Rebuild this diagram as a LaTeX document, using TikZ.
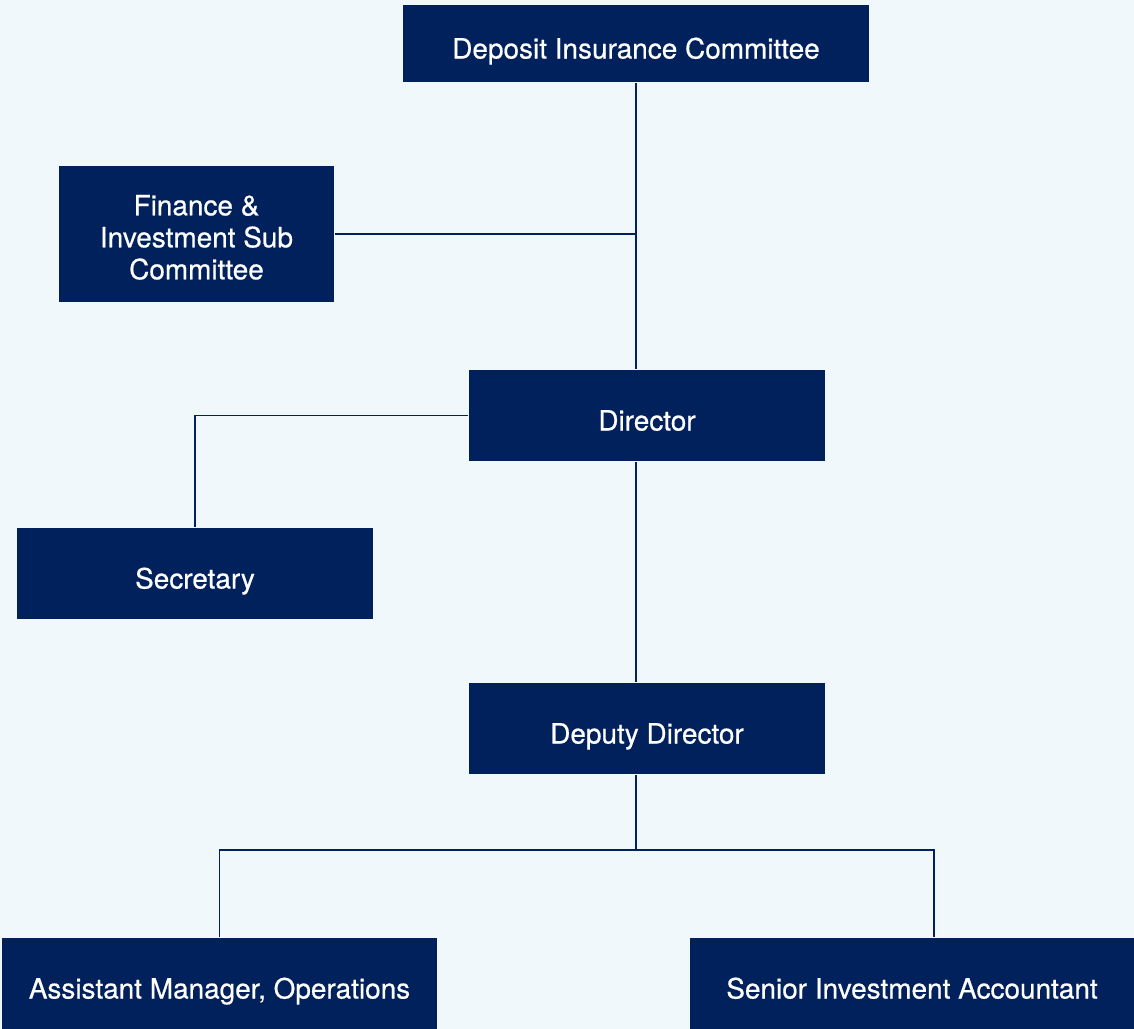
\documentclass[tikz,border=0pt]{standalone}
\usepackage{fontspec}
\setmainfont{TeX Gyre Heros}[FakeBold=0.6]
\usetikzlibrary{positioning,calc}
\definecolor{navy}{HTML}{00215B}
\definecolor{paper}{HTML}{F0F8FB}

\begin{document}
\begin{tikzpicture}[line width=1.1pt]
  \tikzstyle{box} = [fill=navy, text=white, align=center, inner sep=0pt,
    minimum height=1.82cm, font=\fontsize{15.9}{18.2}\selectfont];
  \tikzstyle{onebox} = [box, text height=0.6cm, text depth=0pt];
  \fill[paper] (0,0) rectangle (22.68,-20.58);
  \useasboundingbox (0,0) rectangle (22.68,-20.58);

  \node[onebox, minimum width=9.32cm, minimum height=1.54cm] (dic) at (12.72,-0.87) {Deposit Insurance Committee};
  \node[box, minimum width=5.5cm, minimum height=2.72cm] (fisc) at (3.93,-4.68)
    {\raisebox{-0.29cm}[0pt][0pt]{\begin{tabular}{@{}c@{}}Finance \&\\Investment Sub\\Committee\end{tabular}}};
  \node[onebox, minimum width=7.12cm] (dir) at (12.94,-8.31) {Director};
  \node[onebox, minimum width=7.12cm] (sec) at (3.9,-11.47) {Secretary};
  \node[onebox, minimum width=7.12cm] (dd) at (12.94,-14.57) {Deputy Director};
  \node[onebox, minimum width=8.7cm] (amo) at (4.39,-19.67) {Assistant Manager, Operations};
  \node[onebox, minimum width=8.88cm] (sia) at (18.24,-19.67) {Senior Investment Accountant};

  \coordinate (split) at (12.72,-17);
  \coordinate (rdrop) at (18.68,-17);

  \path[draw=navy]
    (dic.south) -- (dic.south |- dir.north)
    (fisc.east) -- (dic.south |- fisc.east)
    (dir.west) -| (sec.north)
    (dic.south |- dir.south) -- (dic.south |- dd.north)
    (dic.south |- dd.south) -- (split)
    (amo.north) |- (rdrop) -- (rdrop |- sia.north);
\end{tikzpicture}
\end{document}
